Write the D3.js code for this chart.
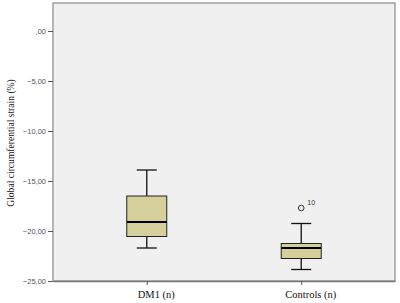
<!DOCTYPE html>
<html><head><meta charset="utf-8">
<script src="https://cdn.jsdelivr.net/npm/d3@7/dist/d3.min.js"></script>
<style>body{margin:0;background:#fff}svg{display:block}</style>
</head><body>
<script>
const categories = ["DM1 (n)", "Controls (n)"];
const whiskerLow = [-21.7, -23.85];
const q1 = [-20.55, -22.75];
const medians = [-19.1, -21.7];
const q3 = [-16.5, -21.25];
const whiskerHigh = [-13.9, -19.25];
const outliers = [{cat: "Controls (n)", value: -17.7, label: "10"}];
const yTicks = [0, -5, -10, -15, -20, -25];

const W = 400, H = 303;
const m = {left: 53, right: 5, top: 3, bottom: 21};
const svg = d3.select("body").append("svg").attr("width", W).attr("height", H);

const y = d3.scaleLinear().domain([-25, 2.8]).range([281, 3]);
const x = d3.scalePoint().domain(categories).range([m.left, W - m.right]).padding(0.607);
const bw = 40;

svg.append("rect").attr("x", m.left).attr("y", 3).attr("width", W - m.right - m.left).attr("height", 278)
  .attr("fill", "#f0f0f0").attr("stroke", "#8a8a8a").attr("stroke-width", 1.2);

const fmt = v => (v === 0 ? ",00" : d3.format(".2f")(v).replace(".", ","));
const yAxis = svg.append("g").attr("transform", `translate(${m.left},0)`)
  .call(d3.axisLeft(y).tickValues(yTicks).tickFormat(fmt).tickSize(5).tickSizeOuter(0));
yAxis.select(".domain").remove();
yAxis.selectAll("line").attr("stroke", "#555");
yAxis.selectAll("text").attr("font-family", "Liberation Sans, Arial, sans-serif").attr("font-size", 7.5).attr("fill", "#555").attr("dx", 1);

const xAxis = svg.append("g").attr("transform", `translate(0,281)`)
  .call(d3.axisBottom(x).tickSize(4).tickSizeOuter(0));
xAxis.select(".domain").attr("stroke", "#777").attr("stroke-width", 1.5);
xAxis.selectAll("line").attr("stroke", "#555");
xAxis.selectAll("text").attr("font-family", "Liberation Serif, Times New Roman, serif").attr("font-size", 10.5).attr("fill", "#111").attr("dy", "0.95em").attr("dx", 9);

svg.append("text").attr("transform", `translate(14,${143}) rotate(-90)`).attr("text-anchor", "middle")
  .attr("font-family", "Liberation Serif, Times New Roman, serif").attr("font-size", 9.6).attr("fill", "#111")
  .text("Global circumferential strain (%)");

const data = categories.map((c, i) => ({c, lo: whiskerLow[i], q1: q1[i], med: medians[i], q3: q3[i], hi: whiskerHigh[i]}));
const g = svg.append("g").selectAll("g").data(data).join("g").attr("transform", d => `translate(${x(d.c)},0)`);
g.append("line").attr("y1", d => y(d.hi)).attr("y2", d => y(d.q3)).attr("stroke", "#111").attr("stroke-width", 1.3);
g.append("line").attr("y1", d => y(d.lo)).attr("y2", d => y(d.q1)).attr("stroke", "#111").attr("stroke-width", 1.3);
g.append("line").attr("x1", -10).attr("x2", 10).attr("y1", d => y(d.hi)).attr("y2", d => y(d.hi)).attr("stroke", "#111").attr("stroke-width", 1.3);
g.append("line").attr("x1", -10).attr("x2", 10).attr("y1", d => y(d.lo)).attr("y2", d => y(d.lo)).attr("stroke", "#111").attr("stroke-width", 1.3);
g.append("rect").attr("x", -bw / 2).attr("width", bw).attr("y", d => y(d.q3)).attr("height", d => y(d.q1) - y(d.q3))
  .attr("fill", "#d4cf9b").attr("stroke", "#222").attr("stroke-width", 1);
g.append("line").attr("x1", -bw / 2).attr("x2", bw / 2).attr("y1", d => y(d.med)).attr("y2", d => y(d.med)).attr("stroke", "#000").attr("stroke-width", 2);

const o = svg.append("g").selectAll("g").data(outliers).join("g");
o.append("circle").attr("cx", d => x(d.cat)).attr("cy", d => y(d.value)).attr("r", 2.8).attr("fill", "none").attr("stroke", "#333").attr("stroke-width", 1);
o.append("text").attr("x", d => x(d.cat) + 6).attr("y", d => y(d.value) - 3).attr("font-family", "Liberation Sans, Arial, sans-serif")
  .attr("font-size", 7).attr("fill", "#333").text(d => d.label);
</script>
</body></html>
